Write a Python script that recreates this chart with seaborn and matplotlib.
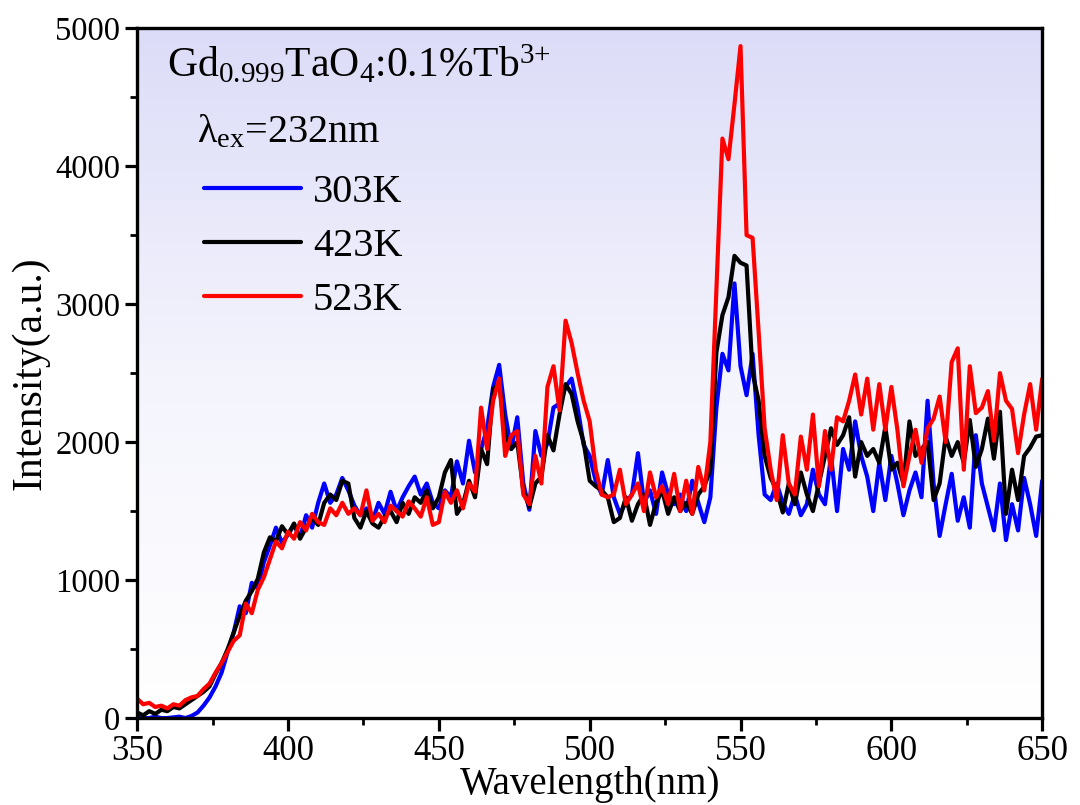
import numpy as np
import pandas as pd
import matplotlib
matplotlib.use("Agg")
import matplotlib.pyplot as plt
from matplotlib.colors import LinearSegmentedColormap
from matplotlib.ticker import MultipleLocator
from matplotlib.lines import Line2D
import seaborn as sns

# Emission spectra of Gd0.999TaO4:0.1%Tb3+ under 232 nm excitation
wavelength = np.arange(350, 651, 2)

temperatures = ["303K", "423K", "523K"]
line_colors = ["#0000ff", "#000000", "#ff0000"]

intensity_303K = [
    10, 0, 0, 10, 0, 0, 5, 10, 0, 15,
    40, 90, 150, 230, 330, 480, 620, 810, 760, 980,
    940, 1130, 1250, 1380, 1270, 1330, 1400, 1310, 1470, 1380,
    1560, 1700, 1560, 1620, 1740, 1650, 1540, 1470, 1520, 1430,
    1560, 1480, 1640, 1500, 1600, 1680, 1750, 1620, 1700, 1560,
    1520, 1650, 1600, 1860, 1700, 2010, 1780, 1950, 2100, 2400,
    2560, 2200, 1950, 2180, 1700, 1510, 2080, 1900, 1990, 2250,
    2280, 2400, 2460, 2250, 1980, 1900, 1720, 1620, 1870, 1600,
    1480, 1560, 1620, 1920, 1560, 1650, 1480, 1780, 1620, 1550,
    1620, 1500, 1720, 1560, 1420, 1600, 2250, 2640, 2520, 3150,
    2550, 2340, 2640, 2050, 1620, 1580, 1700, 1560, 1480, 1620,
    1470, 1550, 1800, 1620, 1550, 1900, 1500, 1950, 1800, 2150,
    1900, 1750, 1500, 1850, 1580, 1900, 1700, 1470, 1650, 1780,
    1600, 2300, 1700, 1320, 1550, 1770, 1430, 1600, 1380, 2050,
    1700, 1530, 1360, 1700, 1290, 1550, 1360, 1740, 1550, 1320,
    1720,
]

intensity_423K = [
    40, 20, 50, 30, 60, 50, 80, 70, 100, 130,
    160, 190, 230, 320, 400, 500, 620, 740, 850, 920,
    1010, 1200, 1310, 1280, 1390, 1330, 1410, 1300, 1380, 1450,
    1400, 1560, 1620, 1580, 1720, 1700, 1450, 1380, 1500, 1410,
    1380, 1460, 1500, 1420, 1560, 1480, 1600, 1560, 1650, 1520,
    1600, 1780, 1870, 1480, 1550, 1720, 1600, 1950, 1840, 2380,
    2430, 2050, 1950, 2000, 1650, 1530, 1700, 1750, 2050, 1940,
    2200, 2420, 2350, 2150, 2000, 1720, 1680, 1650, 1600, 1420,
    1450, 1600, 1430, 1550, 1620, 1400, 1560, 1650, 1480, 1600,
    1500, 1560, 1480, 1620, 1680, 1800, 2650, 2920, 3050, 3350,
    3300, 3280, 2500, 2300, 1900, 1740, 1650, 1490, 1700, 1550,
    1780, 1620, 1500, 1700, 1900, 2100, 1980, 2050, 2180, 1750,
    2000, 1900, 1950, 1850, 2110, 1800, 1850, 1700, 2150, 1900,
    1950, 2000, 1580, 1700, 2040, 1900, 2000, 1850, 2160, 1820,
    1950, 2170, 1880, 2220, 1480, 1800, 1580, 1900, 1960, 2040,
    2050,
]

intensity_523K = [
    140, 100, 110, 80, 90, 70, 100, 90, 130, 150,
    160, 210, 250, 330, 400, 480, 560, 600, 830, 760,
    930, 1020, 1150, 1280, 1230, 1350, 1300, 1420, 1360, 1480,
    1420, 1400, 1520, 1470, 1560, 1480, 1520, 1470, 1650, 1430,
    1480, 1420, 1540, 1500, 1460, 1570, 1520, 1460, 1600, 1400,
    1420, 1640, 1560, 1650, 1520, 1700, 1640, 2250, 1950, 2300,
    2460, 1900, 2050, 2080, 1620, 1550, 1900, 1700, 2400, 2550,
    2230, 2880, 2720, 2500, 2300, 2150, 1800, 1620, 1600, 1620,
    1800, 1550, 1620, 1700, 1500, 1780, 1600, 1680, 1550, 1770,
    1500, 1720, 1480, 1820, 1650, 2000, 3100, 4200, 4050, 4450,
    4870, 3500, 3480, 2800, 2100, 1800, 1580, 2050, 1700, 1620,
    2040, 1800, 2200, 1680, 2080, 1800, 2180, 2150, 2300, 2490,
    2200, 2460, 2090, 2420, 2090, 2400, 2090, 1680, 1900, 2090,
    1850, 2100, 2170, 2330, 2000, 2580, 2680, 1800, 2550, 2210,
    2250, 2370, 2010, 2500, 2300, 2240, 1920, 2200, 2420, 2090,
    2460,
]

x_ticks = [350, 400, 450, 500, 550, 600, 650]
y_ticks = [0, 1000, 2000, 3000, 4000, 5000]

# long-form table for seaborn
df = pd.concat(
    [
        pd.DataFrame({"Wavelength": wavelength, "Intensity": vals, "T": t})
        for t, vals in zip(temperatures, [intensity_303K, intensity_423K, intensity_523K])
    ],
    ignore_index=True,
)

sns.set_theme(style="ticks")
plt.rcParams["font.family"] = ["Liberation Serif", "DejaVu Serif"]
plt.rcParams["mathtext.fontset"] = "custom"
plt.rcParams["mathtext.rm"] = "Liberation Serif"
plt.rcParams["mathtext.it"] = "Liberation Serif:italic"
plt.rcParams["mathtext.default"] = "rm"
for key in ["text.color", "axes.labelcolor", "xtick.color", "ytick.color",
            "xtick.labelcolor", "ytick.labelcolor"]:
    plt.rcParams[key] = "black"

fig = plt.figure(figsize=(10.8, 8.05), dpi=100)
ax = fig.add_axes([0.127, 0.108, 0.838, 0.857])

# lavender-to-white background inside the axes
grad = np.linspace(1, 0, 256).reshape(-1, 1)
bg_cmap = LinearSegmentedColormap.from_list("bg", ["#ffffff", "#f4f4fd", "#dcdcf8"])
ax.imshow(grad, extent=[0, 1, 0, 1], transform=ax.transAxes, aspect="auto",
          cmap=bg_cmap, zorder=0, interpolation="bicubic")

sns.lineplot(data=df, x="Wavelength", y="Intensity", hue="T",
             palette=line_colors, linewidth=3.0, ax=ax, legend=False,
             estimator=None, sort=False, zorder=2)

ax.set_xlim(350, 650)
ax.set_ylim(0, 5000)
ax.set_xticks(x_ticks)
ax.set_yticks(y_ticks)
ax.xaxis.set_minor_locator(MultipleLocator(25))
ax.yaxis.set_minor_locator(MultipleLocator(500))
ax.tick_params(which="major", direction="out", length=9, width=2.3,
               color="black")
ax.tick_params(which="minor", direction="out", length=5, width=2.0,
               color="black")
ax.tick_params(axis="x", labelsize=25, pad=3)
ax.tick_params(axis="y", labelsize=23.5, pad=3)
for sp in ax.spines.values():
    sp.set_linewidth(2.4)
    sp.set_color("black")
    sp.set_zorder(5)

ax.set_xlabel("Wavelength(nm)", fontsize=28, labelpad=-1)
ax.set_ylabel("Intensity(a.u.)", fontsize=30, labelpad=4)

ax.text(0.033, 0.929, r"Gd$_{0.999}$TaO$_{4}$:0.1%Tb$^{3{+}}$",
        transform=ax.transAxes, fontsize=30, va="baseline", ha="left")
ax.text(0.066, 0.835, r"λ$_{\mathrm{ex}}$=232nm",
        transform=ax.transAxes, fontsize=29, va="baseline", ha="left")

handles = [Line2D([0], [0], color=c, lw=3.0) for c in line_colors]
ax.legend(handles, temperatures, loc="upper left", bbox_to_anchor=(0.043, 0.83),
          frameon=False, fontsize=29, handlelength=2.4, handletextpad=0.3,
          labelspacing=0.42, borderpad=0.2)

fig.savefig("out.png", dpi=100, facecolor="white")
